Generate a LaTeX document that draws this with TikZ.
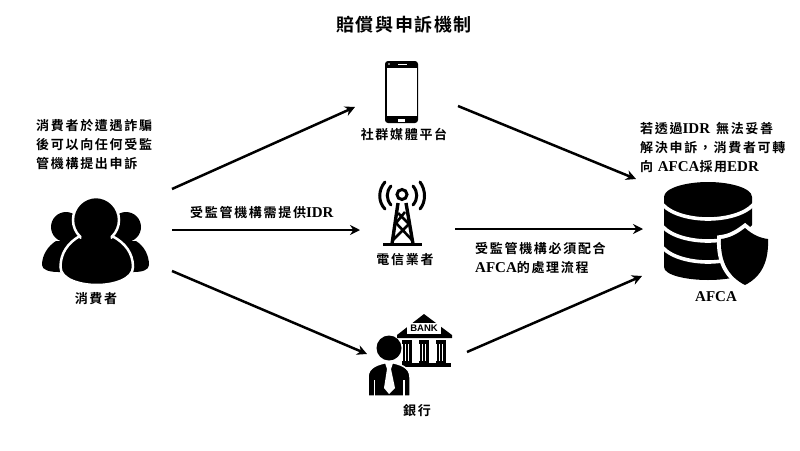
\documentclass[tikz,border=0pt]{standalone}
\usepackage{fontspec}
\setmainfont{Liberation Serif}
\newfontfamily\cjk[LetterSpace=13,BoldFont={Noto Sans CJK TC Bold}]{Noto Sans CJK TC}
\newfontfamily\cjkt[LetterSpace=9,BoldFont={Noto Sans CJK TC Bold}]{Noto Sans CJK TC}
\newfontfamily\banksf{Liberation Sans}
\newcommand{\la}[1]{{\rmfamily\bfseries\fontsize{15}{19}\selectfont #1}}
\usetikzlibrary{arrows.meta}
\tikzset{
  flow/.style={line width=2.5pt,-{Stealth[length=10pt,width=10pt]}},
  lab/.style={inner sep=0pt,text=black,font=\cjk\bfseries\fontsize{13}{19}\selectfont},
  para/.style={lab,anchor=north west,align=left},
  ttl/.style={inner sep=0pt,font=\cjkt\bfseries\fontsize{18}{22}\selectfont},
  ink/.style={fill=black,draw=none},
  gap/.style={fill=black,draw=white,line width=2.5pt},
  cut/.style={draw=white,line width=3.6pt}
}
\begin{document}
\begin{tikzpicture}[x=1pt,y=-1pt]
\useasboundingbox (0,0) rectangle (800,450);
\fill[white] (0,0) rectangle (800,450);

% texts
\node[ttl] (title) at (404,25) {賠償與申訴機制};
\node[para] (ltext) at (36,119) {消費者於遭遇詐騙\\後可以向任何受監\\管機構提出申訴};
\node[lab] (lcons) at (96,299) {消費者};
\node[lab] (lsoc) at (404,134) {社群媒體平台};
\node[lab] (ltel) at (405,260) {電信業者};
\node[lab] (lbank) at (417,411) {銀行};
\node[inner sep=0pt] (lafca) at (716,297) {\la{AFCA}};
\node[para] (lidr) at (190,206) {受監管機構需提供\la{IDR}};
\node[para] (lafc) at (475,242) {受監管機構必須配合\\\la{AFCA}的處理流程};
\node[para] (rtext) at (640,122) {若透過\la{IDR}\hspace{6pt}無法妥善\\解決申訴，消費者可轉\\向 \la{AFCA}採用\la{EDR}};

% people
\fill[ink] (66,227) circle (15);
\fill[ink] (126,227) circle (15);
\fill[ink] (42,265) .. controls (42,255) and (48,246) .. (56,241) -- (136,241) .. controls (144,246) and (149,255) .. (149,265) .. controls (149,270) and (142,272) .. (134,272) -- (58,272) .. controls (50,272) and (42,270) .. (42,265) -- cycle;
\draw[gap] (60.5,267) .. controls (60.5,253) and (68,243) .. (79,236.5) .. controls (88,243) and (104,243) .. (113,236.5) .. controls (125,243) and (133,253) .. (133,267) .. controls (133,279) and (114,285) .. (97,285) .. controls (79,285) and (60.5,279) .. (60.5,267) -- cycle;
\draw[fill=black,draw=white,line width=2.5pt] (96,220) circle (23);
\fill[ink] (82,232) -- (110,232) -- (112,250) -- (80,250) -- cycle;
\coordinate (cu) at (172,189);
\coordinate (cm) at (172,230);
\coordinate (cd) at (172,271);

% phone
\fill[ink,rounded corners=3pt] (385,61) rectangle (418,123);
\fill[white] (387,68) rectangle (417,116);
\fill[white] (398,118.5) rectangle (405,121.5);
\draw[white,line width=0.7pt] (398,64) -- (407,64);
\fill[white] (389,64) circle (0.8);
\coordinate (si) at (355,107);
\coordinate (so) at (458,106);

% tower
\draw[line width=3pt] (402,194.5) circle (5);
\draw[line width=3pt] (383,244.5) -- (422,244.5);
\draw[line width=3.4pt,line join=round] (398,203) -- (392,244) (406,203) -- (413,244);
\draw[line width=2.6pt,line join=round] (398,213) -- (409,224) -- (393,240) (405,212) -- (396,223) -- (412,240);
\draw[line width=3pt,line cap=round] (391,186) .. controls (386,192) and (386,199) .. (391,205);
\draw[line width=3pt,line cap=round] (413,186) .. controls (418,192) and (418,199) .. (413,205);
\draw[line width=3pt,line cap=round] (385,182) .. controls (378,190) and (378,202) .. (385,209);
\draw[line width=3pt,line cap=round] (420,182) .. controls (426,190) and (426,202) .. (420,209);
\coordinate (ti) at (360,230);
\coordinate (to) at (455,229);

% bank
\fill[ink] (424,314) -- (452,335) -- (452,338) -- (397,338) -- (397,335) -- cycle;
\fill[white] (407,323) rectangle (441,334);
\node[inner sep=0pt,text=black,font=\banksf\bfseries\fontsize{9.5}{9.5}\selectfont] (bnk) at (424,328.5) {BANK};
\foreach \cx in {407,424,441}{
  \fill[ink] (\cx-5,340) rectangle (\cx+5,344);
  \fill[ink] (\cx-4.5,344) rectangle (\cx-2,362);
  \fill[ink] (\cx-1,344) rectangle (\cx+1,362);
  \fill[ink] (\cx+2,344) rectangle (\cx+4.5,362);
  \fill[ink] (\cx-5,361) rectangle (\cx+5,364);
}
\fill[ink] (402,363) rectangle (451,367);
\draw[fill=black,draw=white,line width=1.5pt] (368,396) -- (368,377) .. controls (368,367) and (378,364) .. (389,362) .. controls (400,364) and (410,367) .. (410,377) -- (410,396) -- cycle;
\fill[ink] (389,348) circle (12.5);
\fill[white] (385,363) -- (393,363) -- (391,369) -- (395,388) -- (389,394) -- (384,388) -- (387,369) -- cycle;
\fill[white] (373.5,380) rectangle (375,396);
\fill[white] (403,380) rectangle (404.5,396);
\coordinate (bi) at (367,354);
\coordinate (bo) at (467,352);

% database
\fill[ink] (664,197) .. controls (664,188) and (686,182) .. (708,182) .. controls (730,182) and (752,188) .. (752,197) -- (752,267) .. controls (752,275) and (730,280) .. (708,280) .. controls (686,280) and (664,275) .. (664,267) -- cycle;
\draw[cut] (662,204) .. controls (672,215) and (692,219) .. (708,219) .. controls (724,219) and (744,215) .. (754,204);
\draw[cut] (662,226) .. controls (672,237) and (692,241) .. (708,241) .. controls (724,241) and (744,237) .. (754,226);
\draw[cut] (662,247) .. controls (672,258) and (692,262) .. (708,262) .. controls (724,262) and (744,258) .. (754,247);
\draw[fill=black,draw=white,line width=8pt] (745,228) .. controls (736,235) and (729,238) .. (721,239) .. controls (720,262) and (729,277) .. (745,285) .. controls (761,277) and (769,262) .. (768,239) .. controls (760,238) and (753,235) .. (745,228) -- cycle;
\fill[ink] (745,228) .. controls (736,235) and (729,238) .. (721,239) .. controls (720,262) and (729,277) .. (745,285) .. controls (761,277) and (769,262) .. (768,239) .. controls (760,238) and (753,235) .. (745,228) -- cycle;
\coordinate (au) at (636,179);
\coordinate (am) at (643,229);
\coordinate (ad) at (642,276);

% connectors
\draw[flow] (cu) -- (si);
\draw[flow] (cm) -- (ti);
\draw[flow] (cd) -- (bi);
\draw[flow] (so) -- (au);
\draw[flow] (to) -- (am);
\draw[flow] (bo) -- (ad);
\end{tikzpicture}
\end{document}
